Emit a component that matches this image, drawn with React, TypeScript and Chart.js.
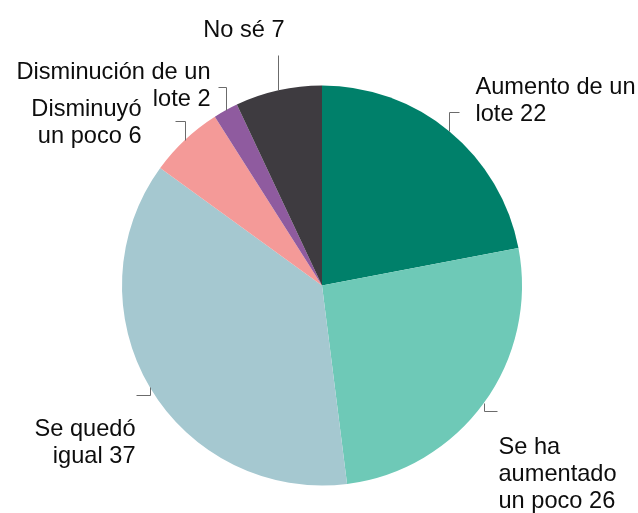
import React, { useEffect, useRef } from "react";
import { Chart, registerables } from "chart.js";

Chart.register(...registerables);

const categories = [
  "Aumento de un lote",
  "Se ha aumentado un poco",
  "Se quedó igual",
  "Disminuyó un poco",
  "Disminución de un lote",
  "No sé",
];
const values = [22, 26, 37, 6, 2, 7];
const colors = ["#00806a", "#6ec9b7", "#a5c8d0", "#f49a98", "#8f5b9f", "#3e3b40"];
const labelLines = [
  ["Aumento de un", "lote"],
  ["Se ha", "aumentado", "un poco"],
  ["Se quedó", "igual"],
  ["Disminuyó", "un poco"],
  ["Disminución de un", "lote"],
  ["No sé"],
];

// leader: vertical run (negative = up), then horizontal run
const leaderRuns = [
  [-19, 10],
  [8, 13],
  [8, -14],
  [-19, -10],
  [-23, -8],
  [-35, 0],
];
// text offset from leader end: dx, dy (first baseline), align
const textOffsets: [number, number, CanvasTextAlign][] = [
  [16, -19, "left"],
  [1, 42, "left"],
  [-1, 40, "right"],
  [-34, -6, "right"],
  [-8, -9, "right"],
  [6, -19, "right"],
];

const labelPlugin = {
  id: "pieLabels",
  afterDraw(chart: any) {
    const ctx = chart.ctx as CanvasRenderingContext2D;
    const meta = chart.getDatasetMeta(0);
    ctx.save();
    meta.data.forEach((arc: any, i: number) => {
      const { x, y, startAngle, endAngle, outerRadius } = arc.getProps(
        ["x", "y", "startAngle", "endAngle", "outerRadius"],
        true
      );
      const mid = (startAngle + endAngle) / 2;
      const px = Math.round(x + Math.cos(mid) * outerRadius) + 0.5;
      const py = Math.round(y + Math.sin(mid) * outerRadius) + 0.5;
      const [v, h] = leaderRuns[i];
      ctx.strokeStyle = "#6b6b6b";
      ctx.lineWidth = 1;
      ctx.beginPath();
      ctx.moveTo(px, py);
      ctx.lineTo(px, py + v);
      ctx.lineTo(px + h, py + v);
      ctx.stroke();
      const ex = px + h;
      const ey = py + v;
      const [tdx, tdy, align] = textOffsets[i];
      ctx.fillStyle = "#0d0d0d";
      ctx.font = '23.6px "Liberation Sans", Arial, sans-serif';
      ctx.textAlign = align;
      ctx.textBaseline = "alphabetic";
      const lines = labelLines[i].slice();
      lines[lines.length - 1] = lines[lines.length - 1] + " " + values[i];
      lines.forEach((ln, j) => {
        ctx.fillText(ln, ex + tdx, ey + tdy + j * 27);
      });
    });
    ctx.restore();
  },
};

export default function App() {
  const ref = useRef<HTMLCanvasElement | null>(null);
  useEffect(() => {
    if (!ref.current) return;
    const chart = new Chart(ref.current, {
      type: "pie",
      data: {
        labels: categories,
        datasets: [
          {
            data: values,
            backgroundColor: colors,
            borderWidth: 0,
          },
        ],
      },
      options: {
        responsive: false,
        animation: false,
        devicePixelRatio: 1,
        layout: { padding: { left: 122, right: 116, top: 85, bottom: 27 } },
        plugins: {
          legend: { display: false },
          tooltip: { enabled: false },
        },
      },
      plugins: [labelPlugin],
    });
    return () => chart.destroy();
  }, []);
  return (
    <div style={{ position: "absolute", left: 0, top: 0, width: 638, height: 513, background: "#ffffff" }}>
      <canvas ref={ref} width={638} height={513} />
    </div>
  );
}
